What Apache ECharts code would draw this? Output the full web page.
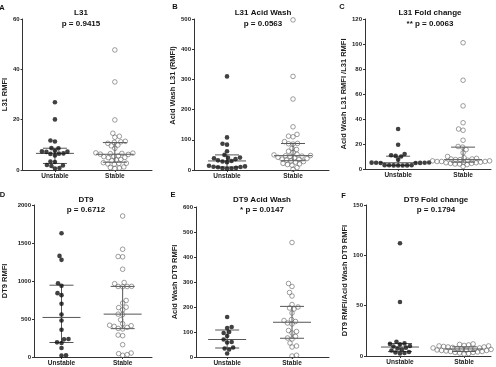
<!DOCTYPE html>
<html>
<head>
<meta charset="UTF-8">
<script src="https://cdn.jsdelivr.net/npm/echarts@6/dist/echarts.min.js"></script>
<style>
  html, body { margin: 0; padding: 0; background: #fff; }
  #chart { width: 496px; height: 367px; }
</style>
</head>
<body>
<div id="chart"></div>
<script>
// groups on every x axis
var groups = ['Unstable', 'Stable'];

// A - L31 RMFI
var l31Unstable = [26.9, 20.1, 11.7, 11.3, 8.7, 8.6, 7.6, 7.4, 7.3, 7.2, 6.6, 6.5, 6.4, 5.8, 3.4, 3.2, 2.0, 1.8, 1.6, 0.8, 0.6];
var l31Stable = [47.7, 35.0, 19.9, 14.6, 13.4, 13.0, 11.4, 11.2, 11.0, 10.6, 9.9, 9.6, 8.6, 6.8, 6.7, 6.6, 6.5, 6.3,
  6.2, 5.6, 5.4, 5.3, 5.0, 4.9, 4.2, 4.0, 3.7, 2.9, 2.7, 2.6, 2.4, 2.3, 1.2, 1.0, 0.8, 0.6];

// B - acid wash L31
var l31AcidUnstable = [310, 108, 87, 84, 62, 50, 41, 40, 39, 36, 32, 30, 28, 26, 14, 12, 11, 10, 9, 7, 6, 5, 4];
var l31AcidStable = [497, 310, 235, 143, 118, 112, 110, 94, 88, 87, 86, 72, 68, 62, 58, 52, 50, 48, 47, 46, 45, 42,
  40, 38, 36, 35, 33, 30, 28, 26, 22, 20, 18, 16, 8, 2];

// C - L31 fold change
var l31FoldUnstable = [32, 19.4, 12, 11, 10.5, 10, 7.5, 5.2, 5.1, 5, 5, 4.9, 4.8, 4.8, 3.1, 3.0, 3.0, 2.9, 2.9, 2.8, 2.8];
var l31FoldStable = [101, 71, 50.5, 37, 32, 31, 23, 18, 17.5, 15.5, 13, 10, 9, 8.5, 8, 8, 7.5, 7.5, 7, 7, 6.5, 6.5,
  6, 6, 6, 5.5, 5.5, 5, 5, 4.5, 4.5, 4, 4, 3.5, 2];

// D - DT9 RMFI
var dt9Unstable = [1628, 1330, 1278, 971, 936, 840, 814, 700, 560, 481, 359, 236, 232, 193, 184, 118, 22, 18];
var dt9Stable = [1855, 1418, 1322, 1318, 1155, 980, 965, 930, 928, 928, 925, 744, 709, 656, 650, 621, 564, 560, 490,
  438, 418, 412, 403, 390, 376, 370, 289, 280, 162, 52, 44, 31, 22];

// E - acid wash DT9
var dt9AcidUnstable = [160, 120, 116, 100, 96, 84, 70, 60, 58, 38, 34, 30, 14];
var dt9AcidStable = [458, 294, 282, 258, 244, 210, 200, 196, 192, 176, 150, 146, 142, 136, 132, 106, 102, 96, 82, 76,
  72, 56, 44, 40, 7, 4];

// F - DT9 fold change
var dt9FoldUnstable = [112, 53.6, 14.2, 12.5, 12, 11.5, 10, 9.5, 8.3, 7.5, 6.5, 5.5, 4, 3.5, 3, 2.5];
var dt9FoldStable = [12, 11.5, 11, 10.5, 10, 10, 9.5, 9, 9, 8.5, 8, 8, 7.5, 7.5, 7, 7, 6.5, 6, 6, 5.5, 5.5, 5, 4.5,
  4.5, 4, 3.5, 3.5, 3, 2.5, 2];

var letters = ['A', 'B', 'C', 'D', 'E', 'F'];
var titles = ['L31', 'L31 Acid Wash', 'L31 Fold change', 'DT9', 'DT9 Acid Wash', 'DT9 Fold change'];
var pValues = ['p = 0.9415', 'p = 0.0563', '** p = 0.0063', 'p = 0.6712', '* p = 0.0147', 'p = 0.1794'];
var yNames = ['L31 RMFI', 'Acid Wash L31 (RMFI)', 'Acid Wash L31 RMFI /L31 RMFI', 'DT9 RMFI',
  'Acid Wash DT9 RMFI', 'DT9 RMFI/Acid Wash DT9 RMFI'];
var yMax = [60, 500, 120, 2000, 600, 150];
var yStep = [20, 100, 20, 500, 100, 50];
var unstableSets = [l31Unstable, l31AcidUnstable, l31FoldUnstable, dt9Unstable, dt9AcidUnstable, dt9FoldUnstable];
var stableSets = [l31Stable, l31AcidStable, l31FoldStable, dt9Stable, dt9AcidStable, dt9FoldStable];

// panel placement in pixels
var layout = [
  { left: 16, top: 19, width: 136, height: 151, xMin: 0.46, xMax: 2.62, gap: 9, shift: 0, tx: 81, ty: 13, lx: 2, ly: 7.5 },
  { left: 194, top: 19, width: 135, height: 151, xMin: 0.5, xMax: 2.545, gap: 15, shift: 18, tx: 263, ty: 13, lx: 175, ly: 6.5 },
  { left: 365, top: 19, width: 126, height: 150, xMin: 0.49, xMax: 2.43, gap: 17, shift: 0, tx: 430, ty: 13, lx: 342, ly: 6.5 },
  { left: 32, top: 205, width: 120, height: 152, xMin: 0.55, xMax: 2.48, gap: 25, shift: 0, tx: 86, ty: 200, lx: 2.5, ly: 195 },
  { left: 196, top: 207, width: 133, height: 151, xMin: 0.52, xMax: 2.57, gap: 17, shift: 0, tx: 262, ty: 200, lx: 173, ly: 195 },
  { left: 366, top: 205, width: 125, height: 151, xMin: 0.47, xMax: 2.42, gap: 17, shift: 0, tx: 436, ty: 200, lx: 343.5, ly: 196 }
];

var FONT = 'Liberation Sans, Arial, sans-serif';
var chart = echarts.init(document.getElementById('chart'));

// GraphPad style percentile
function quant(arr, p) {
  var s = arr.slice().sort(function (a, b) { return a - b; });
  var n = s.length, pos = p * (n + 1), lo = Math.floor(pos), f = pos - lo;
  if (lo < 1) return s[0];
  if (lo >= n) return s[n - 1];
  return s[lo - 1] + f * (s[lo] - s[lo - 1]);
}

function swarm(pys, d) {
  var idx = pys.map(function (_, i) { return i; }).sort(function (a, b) { return pys[b] - pys[a]; });
  var placed = [], offs = [];
  idx.forEach(function (i, n) {
    var sign = n % 2 ? 1 : -1;
    for (var k = 0; k < 600; k++) {
      var off = sign * (k % 2 ? 1 : -1) * Math.ceil(k / 2) * 0.5;
      var ok = placed.every(function (p) {
        var dx = p[0] - off, dy = p[1] - pys[i];
        return dx * dx + dy * dy >= d * d;
      });
      if (ok) { placed.push([off, pys[i]]); offs[i] = off; break; }
    }
  });
  return offs;
}

var grids = [], xAxes = [], yAxes = [], series = [], graphics = [];
layout.forEach(function (L, i) {
  grids.push({ left: L.left, top: L.top, width: L.width, height: L.height });
  xAxes.push({
    type: 'value', gridIndex: i, min: L.xMin, max: L.xMax,
    axisLine: { lineStyle: { color: '#333', width: 1 } },
    axisTick: { show: true, length: 2, customValues: [1, 2], lineStyle: { color: '#333' } },
    axisLabel: {
      customValues: [1, 2], margin: 3, fontSize: 6.5, fontWeight: 'bold', color: '#222', fontFamily: FONT,
      formatter: function (v) { return groups[Math.round(v) - 1] || ''; }
    },
    splitLine: { show: false }
  });
  yAxes.push({
    type: 'value', gridIndex: i, min: 0, max: yMax[i], interval: yStep[i],
    name: yNames[i], nameLocation: 'middle', nameGap: L.gap, nameRotate: 90,
    nameTextStyle: { fontSize: 7.5, fontWeight: 'bold', color: '#222', fontFamily: FONT, padding: [0, 0, 0, L.shift] },
    axisLine: { show: true, lineStyle: { color: '#333', width: 1 } },
    axisTick: { show: true, length: 2, lineStyle: { color: '#333' } },
    axisLabel: {
      margin: 3, fontSize: 6, fontWeight: 'bold', color: '#222', fontFamily: FONT,
      formatter: function (v) { return String(v); }
    },
    splitLine: { show: false }
  });

  var sets = [unstableSets[i], stableSets[i]];
  series.push({
    type: 'custom', xAxisIndex: i, yAxisIndex: i, z: 1, silent: true,
    data: sets.map(function (s, g) { return [g + 1, quant(s, 0.5), quant(s, 0.25), quant(s, 0.75)]; }),
    encode: { x: 0, y: [1, 2, 3] },
    renderItem: function (params, api) {
      var x = api.value(0);
      var pm = api.coord([x, api.value(1)]);
      var p1 = api.coord([x, api.value(2)]);
      var p3 = api.coord([x, api.value(3)]);
      var st = { stroke: '#555', lineWidth: 1 };
      return {
        type: 'group', children: [
          { type: 'line', shape: { x1: pm[0] - 19, y1: pm[1], x2: pm[0] + 19, y2: pm[1] }, style: st },
          { type: 'line', shape: { x1: p1[0] - 12, y1: p1[1], x2: p1[0] + 12, y2: p1[1] }, style: st },
          { type: 'line', shape: { x1: p3[0] - 12, y1: p3[1], x2: p3[0] + 12, y2: p3[1] }, style: st },
          { type: 'line', shape: { x1: p1[0], y1: p1[1], x2: p3[0], y2: p3[1] }, style: st }
        ]
      };
    }
  });
  series.push({
    type: 'scatter', xAxisIndex: i, yAxisIndex: i, z: 3, symbolSize: 4.6,
    itemStyle: { color: '#111' },
    data: unstableSets[i].map(function (v) { return [1, v]; })
  });
  series.push({
    type: 'scatter', xAxisIndex: i, yAxisIndex: i, z: 3, symbolSize: 4.6,
    itemStyle: { color: 'rgba(255,255,255,0)', borderColor: '#666', borderWidth: 0.8 },
    data: stableSets[i].map(function (v) { return [2, v]; })
  });

  graphics.push({
    type: 'text', x: L.lx, y: L.ly,
    style: { text: letters[i], font: 'bold 7.5px ' + FONT, fill: '#111', align: 'center', verticalAlign: 'middle' }
  });
  graphics.push({
    type: 'text', x: L.tx, y: L.ty,
    style: { text: titles[i], font: 'bold 8px ' + FONT, fill: '#111', align: 'center', verticalAlign: 'middle' }
  });
  graphics.push({
    type: 'text', x: L.tx, y: L.ty + (i < 3 ? 10.5 : 9.5),
    style: { text: pValues[i], font: 'bold 8px ' + FONT, fill: '#111', align: 'center', verticalAlign: 'middle' }
  });
});

chart.setOption({
  animation: false,
  grid: grids, xAxis: xAxes, yAxis: yAxes, series: series, graphic: graphics
});

// spread the dots sideways so they do not overlap (beeswarm)
var newSeries = [];
layout.forEach(function (L, i) {
  var unit = chart.convertToPixel({ gridIndex: i }, [2, 0])[0] - chart.convertToPixel({ gridIndex: i }, [1, 0])[0];
  [unstableSets[i], stableSets[i]].forEach(function (s, g) {
    var pys = s.map(function (v) { return chart.convertToPixel({ gridIndex: i }, [g + 1, v])[1]; });
    var offs = swarm(pys, 4.3);
    newSeries[i * 3 + 1 + g] = { data: s.map(function (v, k) { return [g + 1 + offs[k] / unit, v]; }) };
  });
  newSeries[i * 3] = {};
});
chart.setOption({ series: newSeries });
</script>
</body>
</html>
